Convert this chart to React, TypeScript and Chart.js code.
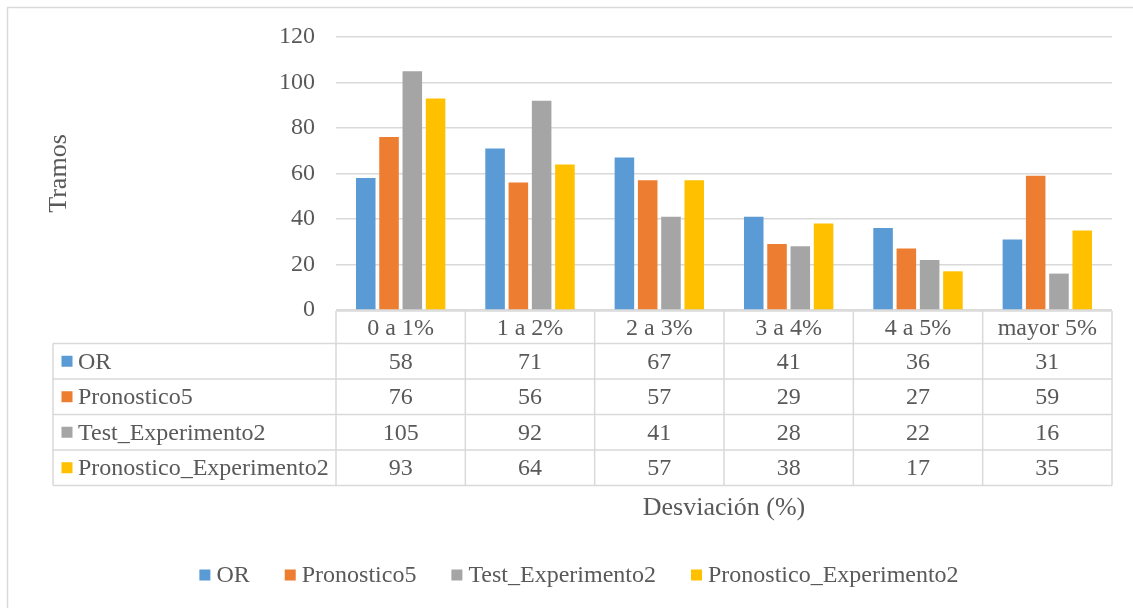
import { useEffect, useRef } from "react";
import { Chart, registerables } from "chart.js";

Chart.register(...registerables);

// Categories (deviation ranges) and the four series
const categories = ["0 a 1%", "1 a 2%", "2 a 3%", "3 a 4%", "4 a 5%", "mayor 5%"];
const seriesNames = ["OR", "Pronostico5", "Test_Experimento2", "Pronostico_Experimento2"];
const orValues = [58, 71, 67, 41, 36, 31];
const pronostico5Values = [76, 56, 57, 29, 27, 59];
const testExperimento2Values = [105, 92, 41, 28, 22, 16];
const pronosticoExperimento2Values = [93, 64, 57, 38, 17, 35];
const seriesColors = ["#5B9BD5", "#ED7D31", "#A5A5A5", "#FFC000"];
const yAxisTitle = "Tramos";
const xAxisTitle = "Desviación (%)";

const FONT = '"Liberation Serif", "Times New Roman", serif';
const TEXT = "#595959";
const LINE = "#D9D9D9";

const W = 1133;
const H = 608;

// Draws the frame, the data table below the plot, axis titles and legend
const tablePlugin = {
  id: "dataTableAndLegend",
  afterDraw(chart: any) {
    const { ctx, chartArea } = chart;
    const xs = chart.scales.x;
    const series = chart.data.datasets;
    const n = chart.data.labels.length;
    const step = xs.getPixelForValue(1) - xs.getPixelForValue(0);
    const edges: number[] = [];
    for (let i = 0; i <= n; i++) edges.push(xs.getPixelForValue(i) - step / 2);

    const labelLeft = 53;
    const headerTop = chartArea.bottom + 1;
    const headerH = 32.5;
    const rowH = 35.5;
    const rowsTop = headerTop + headerH;
    const bottom = rowsTop + rowH * series.length;

    ctx.save();
    // outer frame (left and top edges)
    ctx.strokeStyle = LINE;
    ctx.lineWidth = 1.5;
    ctx.beginPath();
    ctx.moveTo(7.5, H + 5);
    ctx.lineTo(7.5, 7.5);
    ctx.lineTo(W + 5, 7.5);
    ctx.stroke();

    // table grid
    ctx.beginPath();
    ctx.moveTo(edges[0], headerTop);
    ctx.lineTo(edges[n], headerTop);
    for (let r = 0; r <= series.length; r++) {
      const y = rowsTop + r * rowH;
      ctx.moveTo(labelLeft, y);
      ctx.lineTo(edges[n], y);
    }
    for (let i = 0; i <= n; i++) {
      ctx.moveTo(edges[i], headerTop);
      ctx.lineTo(edges[i], bottom);
    }
    ctx.moveTo(labelLeft, rowsTop);
    ctx.lineTo(labelLeft, bottom);
    ctx.stroke();

    ctx.fillStyle = TEXT;
    ctx.font = `24px ${FONT}`;
    ctx.textBaseline = "middle";
    ctx.textAlign = "center";
    chart.data.labels.forEach((lab: string, i: number) => {
      ctx.fillText(lab, xs.getPixelForValue(i), headerTop + headerH / 2 + 1);
    });
    series.forEach((ds: any, r: number) => {
      const cy = rowsTop + r * rowH + rowH / 2 + 1;
      ds.data.forEach((v: number, i: number) => {
        ctx.textAlign = "center";
        ctx.fillText(String(v), xs.getPixelForValue(i), cy);
      });
      ctx.fillStyle = ds.backgroundColor;
      ctx.fillRect(61.5, cy - 6.5, 11, 11);
      ctx.fillStyle = TEXT;
      ctx.textAlign = "left";
      ctx.fillText(ds.label, 78, cy);
    });

    // axis titles
    ctx.font = `26px ${FONT}`;
    ctx.textAlign = "center";
    ctx.fillText(xAxisTitle, (edges[0] + edges[n]) / 2, 508);
    ctx.save();
    ctx.translate(59, (chartArea.top + chartArea.bottom) / 2);
    ctx.rotate(-Math.PI / 2);
    ctx.fillText(yAxisTitle, 0, 0);
    ctx.restore();

    // legend
    ctx.font = `24px ${FONT}`;
    ctx.textAlign = "left";
    const box = 11;
    const gapText = 6;
    const gapItem = 35;
    const widths = series.map((ds: any) => box + gapText + ctx.measureText(ds.label).width);
    const total = widths.reduce((a: number, b: number) => a + b, 0) + gapItem * (series.length - 1);
    let lx = 579 - total / 2;
    const ly = 576;
    series.forEach((ds: any, i: number) => {
      ctx.fillStyle = ds.backgroundColor;
      ctx.fillRect(lx, ly - 6.5, box, box);
      ctx.fillStyle = TEXT;
      ctx.fillText(ds.label, lx + box + gapText, ly);
      lx += widths[i] + gapItem;
    });
    ctx.restore();
  },
};

export default function App() {
  const ref = useRef<HTMLCanvasElement | null>(null);

  useEffect(() => {
    let chart: Chart | null = null;
    let cancelled = false;
    const values = [orValues, pronostico5Values, testExperimento2Values, pronosticoExperimento2Values];

    const build = () => {
      if (cancelled || !ref.current) return;
      chart = new Chart(ref.current, {
        type: "bar",
        data: {
          labels: categories,
          datasets: seriesNames.map((name, i) => ({
            label: name,
            data: values[i],
            backgroundColor: seriesColors[i],
            borderWidth: 0,
            categoryPercentage: 0.72,
            barPercentage: 0.84,
          })),
        },
        options: {
          responsive: false,
          animation: false,
          devicePixelRatio: 1,
          layout: { padding: { left: 0, top: 37, right: 21, bottom: H - 310 } },
          plugins: { legend: { display: false }, tooltip: { enabled: false } },
          scales: {
            x: { display: false },
            y: {
              min: 0,
              max: 120,
              ticks: {
                stepSize: 20,
                color: TEXT,
                font: { family: FONT, size: 24 },
                padding: 21,
              },
              grid: { color: LINE, lineWidth: 1.5, drawTicks: false },
              border: { display: false },
              afterFit: (s: any) => {
                s.width = 336;
              },
            },
          },
        },
        plugins: [tablePlugin],
      });
    };

    // make sure the serif face is ready before the canvas text is drawn
    const fonts = (document as any).fonts;
    if (fonts && fonts.load) {
      Promise.all([fonts.load(`24px "Liberation Serif"`), fonts.load(`26px "Liberation Serif"`)])
        .catch(() => null)
        .then(build);
    } else {
      build();
    }

    return () => {
      cancelled = true;
      if (chart) chart.destroy();
    };
  }, []);

  return (
    <div style={{ position: "fixed", left: 0, top: 0, width: W, height: H, background: "#fff" }}>
      <canvas ref={ref} width={W} height={H} style={{ display: "block" }} />
    </div>
  );
}
